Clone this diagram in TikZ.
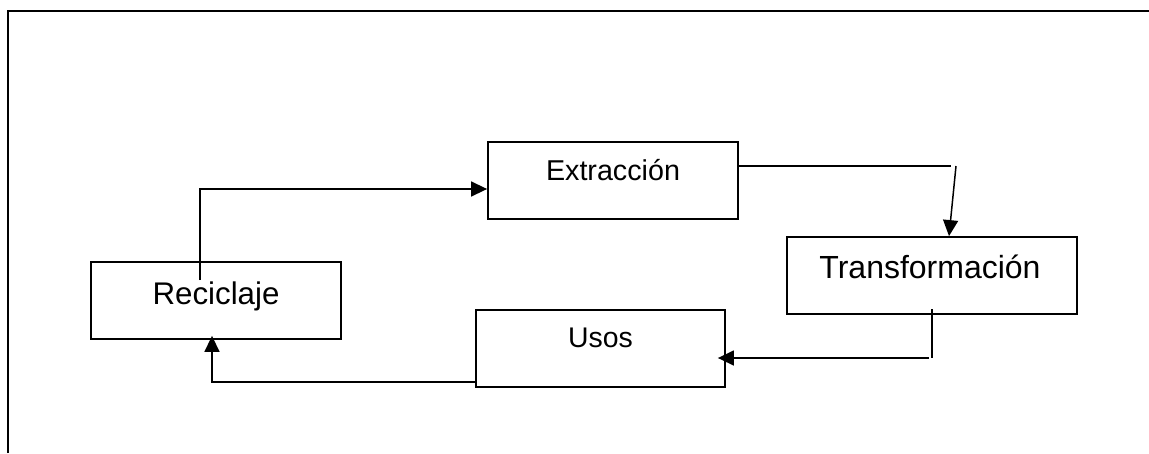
\documentclass[tikz,border=0pt]{standalone}
\usepackage{fontspec}
\setmainfont{Liberation Sans}
\usetikzlibrary{arrows.meta}
\begin{document}
\begin{tikzpicture}[x=1pt,y=-1pt,
  box/.style={draw, line width=1.8pt, inner sep=0pt, minimum width=#1, minimum height=77pt},
  lbl/.style={anchor=base, inner sep=0pt},
  conn/.style={line width=1.5pt},
  arr/.style={conn, -{Triangle[length=16pt,width=15pt]}}]
\useasboundingbox (0,0) rectangle (1149,453);
% outer frame (top and left edges)
\draw[line width=2pt] (8,453) -- (8,11) -- (1149,11);
% boxes
\node[box=250pt] (ext) at (613,180.5) {};
\node[box=290pt] (trans) at (932,275.5) {};
\node[box=249pt] (usos) at (600.5,348.5) {};
\node[box=250pt] (rec) at (216,300.5) {};
% labels
\node[lbl, font=\fontsize{28.7pt}{30pt}\selectfont] (extT) at (613,180) {Extracción};
\node[lbl, font=\fontsize{32pt}{34pt}\selectfont] (transT) at (930,278) {Transformación};
\node[lbl, font=\fontsize{28.4pt}{30pt}\selectfont] (usosT) at (600.5,347) {Usos};
\node[lbl, font=\fontsize{31.3pt}{33pt}\selectfont] (recT) at (216,304) {Reciclaje};
% connectors
\coordinate (r1) at (200,280);
\draw[arr] (r1) |- ([yshift=-8.5pt]ext.west);
\coordinate (e1) at (951,166);
\coordinate (e2) at (956,166);
\draw[conn] ([yshift=14.5pt]ext.east) -- (e1);
\draw[arr] (e2) -- ([xshift=17pt]trans.north);
\coordinate (t1) at (932,309);
\coordinate (t2) at (932,358);
\coordinate (t3) at (929,358);
\draw[conn] (t1) -- (t2);
\draw[arr] (t3) -- ([xshift=-8pt,yshift=-9.5pt]usos.east);
\draw[arr] ([yshift=-33.5pt]usos.west) -| ([xshift=-4pt,yshift=4pt]rec.south);
\end{tikzpicture}
\end{document}
